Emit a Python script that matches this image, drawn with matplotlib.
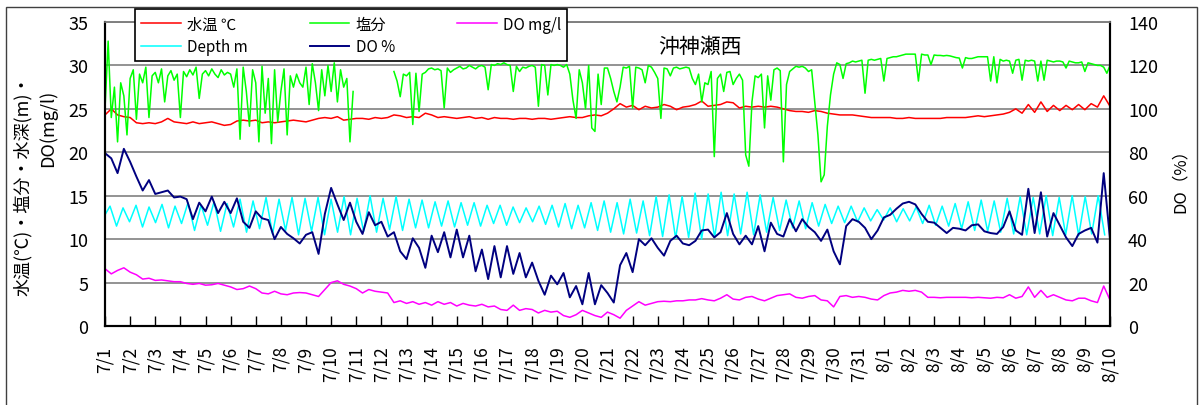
import numpy as np
import matplotlib
matplotlib.use("Agg")
import matplotlib.pyplot as plt
from matplotlib.patches import Rectangle

plt.rcParams['font.family'] = ['Noto Sans CJK JP', 'DejaVu Sans']

# ===== DATA (time axis = days since 7/1 0:00) =====
tick_labels = [f"7/{d}" for d in range(1, 32)] + [f"8/{d}" for d in range(1, 11)]

# 6-hourly readings
temp = [
    24.3, 25.0, 24.3, 24.1, 24.0, 23.4, 23.3, 23.4, 23.3, 23.5, 23.9, 23.5,
    23.4, 23.3, 23.5, 23.3, 23.4, 23.5, 23.3, 23.1, 23.2, 23.6, 23.7, 23.6,
    23.7, 23.4, 23.5, 23.4, 23.5, 23.6, 23.7, 23.6, 23.5, 23.7, 23.9, 24.0,
    23.9, 24.1, 23.7, 23.8, 23.9, 23.9, 23.8, 24.0, 23.9, 24.0, 24.3, 24.2,
    24.0, 24.1, 24.0, 24.5, 24.3, 24.0, 24.1, 24.0, 23.9, 24.0, 24.1, 23.9,
    24.0, 23.8, 24.0, 23.9, 23.9, 23.8, 23.9, 23.9, 23.8, 23.9, 23.9, 23.8,
    23.9, 24.0, 24.1, 24.0, 24.0, 24.2, 24.3, 24.2, 24.5, 25.0, 25.6, 25.2,
    25.4, 24.9, 25.3, 25.1, 25.2, 25.5, 25.3, 24.9, 25.2, 25.3, 25.5, 25.9,
    25.3, 25.4, 25.5, 25.8, 25.7, 25.1, 25.3, 25.2, 25.3, 25.2, 25.3, 25.2,
    25.0, 24.8, 24.7, 24.7, 24.6, 24.8, 24.7, 24.5, 24.4, 24.3, 24.3, 24.3,
    24.2, 24.1, 24.0, 24.0, 24.0, 24.0, 23.9, 23.9, 24.0, 23.9, 23.9, 23.9,
    23.9, 23.9, 24.0, 24.0, 24.0, 24.0, 24.1, 24.2, 24.1, 24.2, 24.3, 24.4,
    24.6, 25.0, 24.5, 25.5, 24.6, 25.8, 24.7, 25.4, 24.8, 25.4, 24.9, 25.5,
    24.9, 25.6, 25.2, 26.5, 25.3,
]
do_mgl = [
    6.6, 6.0, 6.4, 6.7, 6.2, 5.9, 5.4, 5.5, 5.25, 5.3, 5.2, 5.1,
    5.1, 4.9, 4.8, 4.9, 4.7, 4.75, 4.9, 4.7, 4.5, 4.2, 4.3, 4.6,
    4.3, 3.8, 3.7, 4.0, 3.7, 3.6, 3.8, 3.85, 3.8, 3.6, 3.4, 4.2,
    5.0, 5.2, 4.8, 4.6, 4.3, 3.8, 4.2, 4.0, 3.9, 3.8, 2.7, 2.9,
    2.6, 2.8, 2.5, 2.7, 2.4, 2.8, 2.5, 2.7, 2.3, 2.6, 2.4, 2.3,
    2.5, 2.2, 2.3, 1.9, 1.8, 2.4, 1.8, 2.0, 1.9, 1.5, 1.8, 1.6,
    1.7, 1.2, 1.0, 1.3, 1.8, 1.5, 1.2, 1.0, 1.6, 1.3, 0.9, 1.8,
    2.3, 2.8, 2.4, 2.6, 2.8, 2.85, 2.8, 2.9, 2.9, 3.0, 3.0, 3.15,
    3.0, 2.9, 3.2, 3.6, 3.1, 3.0, 3.3, 3.4, 3.1, 2.9, 3.2, 3.5,
    3.6, 3.7, 3.3, 3.2, 3.4, 3.5, 3.0, 2.9, 2.2, 3.4, 3.5, 3.3,
    3.4, 3.3, 3.1, 3.0, 3.5, 3.8, 3.9, 4.1, 4.0, 4.1, 3.9, 3.3,
    3.3, 3.25, 3.3, 3.3, 3.3, 3.3, 3.25, 3.3, 3.25, 3.2, 3.3, 3.25,
    3.6, 3.2, 3.4, 4.5, 3.3, 4.1, 3.3, 3.6, 3.3, 3.0, 2.9, 3.2,
    3.2, 2.9, 2.7, 4.6, 3.0,
]
do_pct = [
    79.6, 77.2, 70.4, 81.6, 75.6, 68.8, 62.4, 67.2, 60.8, 61.6, 62.4, 59.2,
    59.6, 58.4, 49.2, 56.8, 52.8, 59.6, 52.0, 57.2, 52.0, 58.8, 48.0, 45.2,
    52.8, 49.6, 48.8, 40.0, 45.6, 42.4, 40.4, 38.0, 42.0, 43.2, 33.2, 51.6,
    63.6, 56.0, 48.8, 56.8, 48.0, 42.4, 52.4, 46.4, 48.0, 41.2, 43.2, 34.4,
    30.8, 40.4, 36.0, 26.8, 41.6, 34.0, 43.2, 31.6, 44.4, 31.6, 41.6, 25.2,
    35.2, 21.6, 36.8, 22.4, 36.8, 24.0, 33.6, 22.4, 29.2, 20.8, 14.4, 23.2,
    19.2, 24.4, 13.2, 18.4, 10.0, 24.4, 10.0, 18.8, 15.2, 10.8, 28.0, 33.6,
    24.8, 40.0, 37.2, 40.4, 36.0, 32.4, 39.2, 41.6, 38.0, 37.2, 39.2, 44.0,
    44.4, 40.8, 43.2, 52.0, 42.4, 37.6, 41.6, 37.6, 46.0, 34.4, 47.6, 42.4,
    41.2, 49.2, 43.6, 49.2, 45.6, 43.2, 39.2, 44.4, 34.4, 28.4, 46.0, 49.2,
    48.0, 45.2, 40.0, 44.0, 50.0, 51.2, 54.0, 56.4, 57.2, 56.0, 51.6, 48.0,
    47.6, 45.2, 42.8, 45.2, 44.8, 44.0, 46.4, 46.8, 43.6, 42.8, 42.4, 45.6,
    52.8, 44.0, 42.0, 63.2, 42.8, 61.6, 41.2, 52.0, 46.4, 40.8, 36.8, 42.4,
    44.0, 45.2, 38.4, 70.4, 40.0,
]

# 3-hourly salinity (nan = no record)
nan = np.nan
salinity = [
    25.0, 32.8, 24.0, 27.5, 21.2, 28.0, 26.5, 22.0,
    28.5, 29.5, 23.8, 29.0, 28.0, 29.8, 24.0, 28.8,
    29.2, 28.0, 29.6, 25.8, 28.8, 29.4, 28.3, 29.0,
    24.0, 29.3, 28.7, 29.5, 28.9, 29.8, 26.2, 29.0,
    29.4, 28.8, 29.6, 29.0, 28.6, 29.5, 28.9, 29.2,
    29.0, 27.5, 29.6, 21.5, 29.8, 27.0, 23.0, 29.5,
    28.0, 21.2, 29.9, 24.5, 28.5, 21.0, 29.5, 23.5,
    27.0, 29.6, 22.0, 28.8, 27.5, 29.0, 28.0, 27.5,
    29.8, 25.5, 30.2, 28.0, 24.8, 29.5, 26.5, 30.0,
    27.0, 30.3, 25.8, 29.5, 27.5, 28.5, 21.2, 27.0,
    nan, nan, nan, nan, nan, nan, nan, nan,
    nan, nan, nan, nan, 29.3, 28.2, 26.4, 29.0,
    28.8, 29.2, 23.2, 29.1, 24.7, 29.0, 29.2, 29.6,
    29.7, 29.5, 29.6, 29.4, 25.1, 29.7, 29.2, 29.5,
    29.7, 29.9, 29.6, 29.7, 30.0, 29.8, 29.6, 29.9,
    30.0, 29.8, 27.2, 30.1, 30.0, 30.2, 30.1, 30.3,
    30.1, 30.0, 27.0, 29.9, 29.3, 29.8, 29.7, 29.9,
    30.0, 29.8, 25.3, 30.1, 30.0, 26.6, 30.1, 30.0,
    30.1, 30.0, 29.8, 30.1, 29.0, 26.0, 23.9, 29.5,
    28.0, 25.0, 30.0, 22.8, 22.4, 29.0, 25.5, 29.7,
    29.7, 28.5, 27.0, 25.8, 27.5, 29.8, 29.7, 29.9,
    25.1, 29.8, 29.7, 29.5, 28.0, 30.0, 29.8, 29.2,
    28.5, 23.9, 29.7, 29.6, 28.8, 29.7, 29.8, 29.6,
    29.7, 29.8, 29.7, 28.5, 27.8, 29.0, 25.8, 28.0,
    27.8, 29.3, 19.5, 28.5, 29.0, 27.0, 29.2, 29.3,
    27.8, 28.5, 29.0, 28.3, 19.7, 18.4, 25.8, 28.8,
    28.6, 29.0, 22.8, 28.8, 26.0, 29.5, 29.7, 29.4,
    18.9, 27.8, 29.3, 29.6, 29.9, 29.8, 29.9, 29.7,
    29.3, 29.5, 25.8, 22.0, 16.6, 17.4, 23.0, 26.6,
    29.0, 30.3, 30.1, 28.5, 30.2, 30.3, 30.5, 30.4,
    30.5, 30.6, 26.8, 30.6, 30.7, 30.6, 30.7, 30.8,
    28.2, 30.8, 30.9, 31.0, 31.0, 31.1, 31.2, 31.3,
    31.3, 31.3, 31.3, 28.2, 31.3, 31.2, 31.2, 30.1,
    31.2, 31.15, 31.15, 31.1, 31.15, 31.1, 31.0, 30.9,
    30.85, 29.7, 30.9, 30.8, 30.8, 30.9, 31.0, 31.0,
    31.0, 31.0, 28.2, 31.0, 28.0, 30.7, 30.5, 30.6,
    30.5, 29.1, 30.6, 30.7, 28.3, 30.6, 30.5, 30.6,
    30.5, 28.2, 30.5, 28.3, 30.6, 30.5, 30.4, 30.5,
    30.5, 30.4, 29.7, 30.5, 30.4, 30.3, 30.3, 30.4,
    29.3, 30.3, 30.2, 30.1, 30.0, 30.0, 29.8, 29.1,
    30.0,
]

# tide: successive high / low water depths (m), starting at 7/1 ~5h
depth_start = 12.8
depth_high = [
    13.8, 13.6, 13.9, 13.7, 14.0, 13.8, 14.2, 13.9, 14.3, 14.1,
    14.6, 14.4, 14.8, 14.6, 14.8, 14.7, 14.8, 14.6, 14.9, 14.7,
    15.0, 14.7, 14.9, 14.6, 14.5, 14.3, 14.4, 14.2, 14.2, 13.9,
    13.9, 13.7, 13.6, 13.8, 13.9, 14.1, 13.9, 14.2, 14.4, 14.2,
    14.6, 14.4, 14.9, 15.1, 14.9, 15.3, 15.2, 15.4, 15.2, 15.4,
    15.1, 14.8, 14.5, 14.4, 14.2, 14.0, 13.8, 13.8, 13.6, 13.4,
    13.6, 13.5, 13.7, 13.9, 13.8, 14.1, 14.3, 14.5, 14.4, 14.7,
    14.9, 14.8, 15.0, 14.8, 15.0, 14.9, 15.0,
]
depth_low = [
    11.5, 12.0, 11.4, 11.9, 11.3, 11.8, 11.0, 11.6, 10.9, 11.4,
    10.8, 11.2, 10.6, 11.0, 10.5, 10.9, 10.5, 10.8, 10.5, 10.9,
    10.8, 11.1, 11.0, 11.3, 11.3, 11.5, 11.4, 11.6, 11.5, 11.8,
    11.6, 11.9, 12.0, 11.7, 11.4, 11.2, 11.3, 11.0, 10.8, 10.6,
    10.7, 10.4, 10.3, 10.1, 10.2, 10.0, 10.2, 10.4, 10.6, 10.5,
    10.8, 11.0, 11.3, 11.2, 11.5, 11.8, 11.9, 12.0, 12.1, 12.2,
    12.0, 12.1, 11.8, 11.6, 11.5, 11.2, 11.0, 10.9, 10.8, 10.6,
    10.5, 10.6, 10.4, 10.5, 10.4, 10.6, 10.5,
]

# ===== time bases =====
t6 = np.arange(len(temp)) * 0.25            # 6 h steps
t3 = np.arange(len(salinity)) * 0.125       # 3 h steps
tide = np.empty(len(depth_high) + len(depth_low))
tide[0::2] = depth_high
tide[1::2] = depth_low
t_tide = np.concatenate([[0.0], 0.2 + np.arange(len(tide)) * (12.42 / 48)])
depth = np.concatenate([[depth_start], tide])

# ===== figure =====
fig = plt.figure(figsize=(12, 4.06), dpi=100)
ax = fig.add_axes([105 / 1200, 1 - 327 / 406, 1005 / 1200, 304 / 406])
ax2 = ax.twinx()

l_t, = ax.plot(t6, temp, color='#ff0000', lw=1.1, label='水温 ℃')
l_s, = ax.plot(t3, salinity, color='#00ff00', lw=1.1, label='塩分')
l_m, = ax.plot(t6, do_mgl, color='#ff00ff', lw=1.1, label='DO mg/l')
l_d, = ax.plot(t_tide, depth, color='#00ffff', lw=1.1, label='Depth m')
l_p, = ax2.plot(t6, do_pct, color='#000080', lw=1.4, label='DO %')

ax.set_xlim(0, 40)
ax.set_ylim(0, 35)
ax2.set_ylim(0, 140)
ax.set_yticks(np.arange(0, 36, 5))
ax2.set_yticks(np.arange(0, 141, 20))
ax.set_xticks(np.arange(0, 41))
ax.set_xticklabels(tick_labels, rotation=90, va='top', ha='center')

ax.yaxis.grid(True, color='#808080', lw=1.2)
ax.set_axisbelow(True)
ax.tick_params(axis='x', direction='in', length=7, width=1, pad=14, labelsize=12.5)
ax.tick_params(axis='y', length=0, pad=12, labelsize=13)
ax2.tick_params(axis='y', length=0, pad=13, labelsize=13)

for a in (ax, ax2):
    a.spines['top'].set_color('#808080')
    a.spines['top'].set_linewidth(1.2)
    a.spines['left'].set_linewidth(1.5)
    a.spines['bottom'].set_linewidth(1.5)
    a.spines['right'].set_linewidth(1.5)

ax.text(0.592, 0.92, '沖神瀬西', transform=ax.transAxes, ha='center', va='center',
        fontsize=15)

fig.text(23 / 1200, 1 - 185 / 406, '水温(℃)・塩分・水深(m)・', rotation=90,
         ha='center', va='center', fontsize=13)
fig.text(48 / 1200, 1 - 128 / 406, 'DO(mg/l)', rotation=90,
         ha='center', va='center', fontsize=13)
fig.text(1180 / 1200, 1 - 177 / 406, 'DO（%）', rotation=90,
         ha='center', va='center', fontsize=12)

leg = fig.legend([l_t, l_d, l_s, l_p, l_m],
                 ['水温 ℃', 'Depth m', '塩分', 'DO %', 'DO mg/l'],
                 ncol=3, loc='lower left', mode='expand',
                 bbox_to_anchor=(135 / 1200, 1 - 62 / 406, 432 / 1200, 54 / 406),
                 bbox_transform=fig.transFigure, fontsize=11, handlelength=2.6,
                 fancybox=False, framealpha=1, edgecolor='black',
                 borderaxespad=0, labelspacing=0.35, handletextpad=0.4)
leg.get_frame().set_linewidth(1.2)

fig.patches.append(Rectangle((6 / 1200, -0.02), 1191 / 1200, 1 - 8 / 406 + 0.02,
                             transform=fig.transFigure, fill=False,
                             edgecolor='#404040', lw=1))

fig.savefig('out.png', dpi=100)
